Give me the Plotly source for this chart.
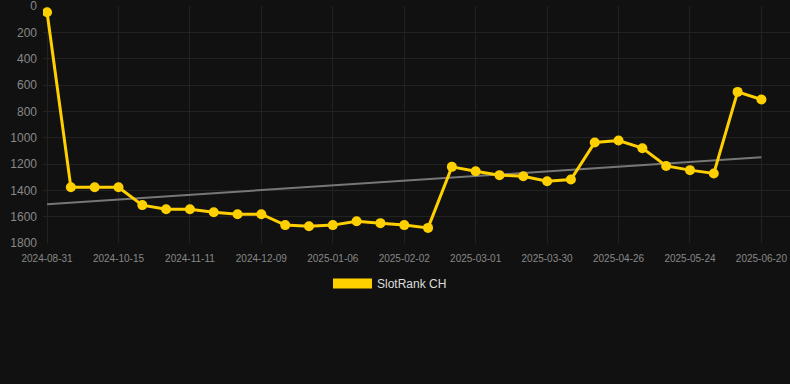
import plotly.graph_objects as go

dates = ["2024-08-31", "2024-09-15", "2024-09-30", "2024-10-15", "2024-10-24", "2024-11-02",
         "2024-11-11", "2024-11-20", "2024-11-30", "2024-12-09", "2024-12-18", "2024-12-28",
         "2025-01-06", "2025-01-15", "2025-01-24", "2025-02-02", "2025-02-11", "2025-02-20",
         "2025-03-01", "2025-03-11", "2025-03-20", "2025-03-30", "2025-04-08", "2025-04-17",
         "2025-04-26", "2025-05-05", "2025-05-14", "2025-05-24", "2025-06-02", "2025-06-11",
         "2025-06-20"]
ranks = [46, 1376, 1376, 1376, 1512, 1543, 1543, 1566, 1581, 1581, 1664, 1672, 1664, 1634,
         1649, 1664, 1685, 1221, 1254, 1284, 1292, 1330, 1317, 1036, 1021, 1079, 1214, 1246,
         1271, 651, 709]
trend_x = [dates[0], dates[-1]]
trend_y = [1505, 1148]
tick_labels = dates[::3]
y_ticks = [0, 200, 400, 600, 800, 1000, 1200, 1400, 1600, 1800]
series_name = "SlotRank CH"

gold = "#FFD000"
fig = go.Figure()
fig.add_trace(go.Scatter(x=trend_x, y=trend_y, mode="lines",
                         line=dict(color="#777777", width=2), showlegend=False, hoverinfo="skip"))
fig.add_trace(go.Scatter(x=dates, y=ranks, mode="lines+markers", name=series_name,
                         line=dict(color=gold, width=3), marker=dict(size=10, color=gold),
                         showlegend=False))
fig.add_trace(go.Scatter(x=[None], y=[None], mode="lines", name=series_name,
                         line=dict(color=gold, width=10), showlegend=True))

fig.update_layout(
    width=790, height=384,
    margin=dict(l=43, r=0, t=6, b=141),
    paper_bgcolor="#111111", plot_bgcolor="#111111",
    font=dict(family="Liberation Sans, Arial, sans-serif", color="#888888"),
    xaxis=dict(type="category", categoryorder="array", categoryarray=dates,
               range=[-0.17, 31.2], tickvals=tick_labels, ticktext=tick_labels,
               tickangle=0, tickfont=dict(size=10, color="#888888"), showgrid=True,
               gridcolor="#222222", zeroline=False, showline=False, ticks="",
               ticklabelstandoff=8),
    yaxis=dict(range=[1800, -2], tickvals=y_ticks,
               tickfont=dict(size=12, color="#888888"), gridcolor="#222222",
               zeroline=False, showline=False, ticks="", ticklabelstandoff=5,
               ticklabeloverflow="allow"),
    legend=dict(orientation="h", x=0.4645, xanchor="center", y=-0.11, yanchor="top",
                font=dict(size=12, color="#dddddd"), bgcolor="rgba(0,0,0,0)", itemwidth=39),
    showlegend=True,
)
fig.write_html("out.html", config={"displayModeBar": False},
               post_script="document.body.style.margin='0';")
